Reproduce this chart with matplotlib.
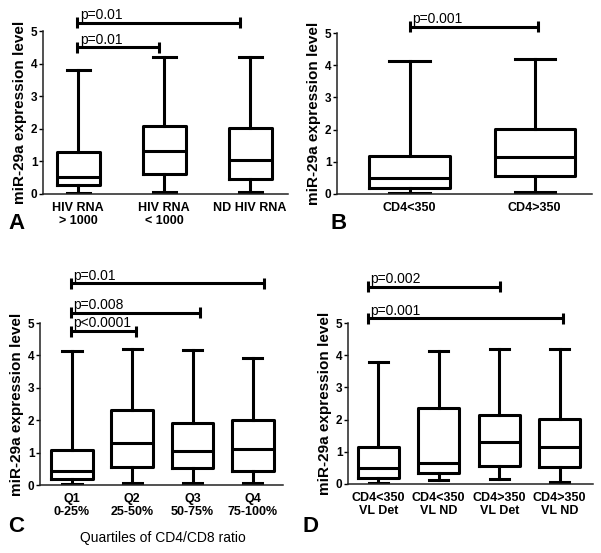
import matplotlib
matplotlib.use("Agg")
import matplotlib.pyplot as plt

plt.rcParams["font.family"] = ["Liberation Sans", "DejaVu Sans"]

# --- panel A: HIV RNA groups ---
a_labels = ["HIV RNA\n> 1000", "HIV RNA\n< 1000", "ND HIV RNA"]
a_low = [0.03, 0.07, 0.06]
a_q1 = [0.28, 0.62, 0.45]
a_med = [0.52, 1.33, 1.03]
a_q3 = [1.28, 2.10, 2.03]
a_high = [3.80, 4.20, 4.20]
a_brackets = [(0.99, 1.94, 4.50, "p=0.01"), (0.99, 2.88, 5.25, "p=0.01")]

# --- panel B: CD4 groups ---
b_labels = ["CD4<350", "CD4>350"]
b_low = [0.03, 0.06]
b_q1 = [0.20, 0.55]
b_med = [0.50, 1.15]
b_q3 = [1.18, 2.03]
b_high = [4.13, 4.20]
b_brackets = [(1.0, 2.03, 5.20, "p=0.001")]

# --- panel C: CD4/CD8 ratio quartiles ---
c_labels = ["Q1\n0-25%", "Q2\n25-50%", "Q3\n50-75%", "Q4\n75-100%"]
c_low = [0.03, 0.07, 0.06, 0.06]
c_q1 = [0.19, 0.57, 0.54, 0.44]
c_med = [0.42, 1.29, 1.05, 1.10]
c_q3 = [1.09, 2.33, 1.92, 2.00]
c_high = [4.14, 4.20, 4.18, 3.93]
c_brackets = [(0.98, 2.07, 4.75, "p<0.0001"), (0.98, 3.12, 5.32, "p=0.008"),
              (0.98, 4.19, 6.22, "p=0.01")]

# --- panel D: CD4 x viral load ---
d_labels = ["CD4<350\nVL Det", "CD4<350\nVL ND", "CD4>350\nVL Det", "CD4>350\nVL ND"]
d_low = [0.04, 0.12, 0.15, 0.06]
d_q1 = [0.18, 0.33, 0.57, 0.52]
d_med = [0.51, 0.64, 1.30, 1.14]
d_q3 = [1.16, 2.35, 2.14, 2.01]
d_high = [3.80, 4.13, 4.20, 4.20]
d_brackets = [(0.83, 3.01, 6.13, "p=0.002"), (0.83, 4.05, 5.15, "p=0.001")]

W, H = 601, 553
fig = plt.figure(figsize=(W / 100, H / 100), dpi=100)


def px_axes(l, r, t, b):
    return fig.add_axes([l / W, 1 - b / H, (r - l) / W, (b - t) / H])


def panel(ax, labels, low, q1, med, q3, high, brackets, xlim, width, capw):
    stats = [dict(whislo=lo, q1=a, med=m, q3=c, whishi=hi, fliers=[])
             for lo, a, m, c, hi in zip(low, q1, med, q3, high)]
    pos = list(range(1, len(stats) + 1))
    lw = 2.2
    ax.bxp(stats, positions=pos, widths=width, capwidths=capw, showfliers=False,
           boxprops=dict(lw=lw, color="black"), medianprops=dict(lw=lw, color="black"),
           whiskerprops=dict(lw=lw, color="black"), capprops=dict(lw=lw, color="black"))
    ax.set_xlim(*xlim)
    ax.set_ylim(0, 5)
    ax.set_yticks(range(6))
    ax.set_xticks(pos)
    ax.set_xticklabels(labels, fontweight="bold", fontsize=9, linespacing=1.05)
    for t in ax.get_yticklabels():
        t.set_fontweight("bold")
        t.set_fontsize(8.5)
    ax.tick_params(axis="x", length=0, pad=6)
    ax.tick_params(axis="y", length=3, width=1, pad=1)
    for s in ("top", "right"):
        ax.spines[s].set_visible(False)
    for s in ("left", "bottom"):
        ax.spines[s].set_linewidth(1.1)
        ax.spines[s].set_color("#222222")
    ax.set_ylabel("miR-29a expression level", fontweight="bold", fontsize=11, labelpad=3)
    for x0, x1, y, txt in brackets:
        ax.plot([x0, x1], [y, y], color="black", lw=2.2, clip_on=False,
                solid_capstyle="butt")
        for xe in (x0, x1):
            ax.plot([xe, xe], [y - 0.17, y + 0.17], color="black", lw=2.2,
                    clip_on=False, solid_capstyle="butt")
        ax.text(x0 + 0.03 * (xlim[1] - xlim[0]) / 3, y + 0.02, txt, ha="left",
                va="bottom", fontsize=10)


axA = px_axes(43, 288, 31, 194)
panel(axA, a_labels, a_low, a_q1, a_med, a_q3, a_high, a_brackets,
      (0.59, 3.44), 0.5, 0.27)
axB = px_axes(337, 592, 33, 194)
panel(axB, b_labels, b_low, b_q1, b_med, b_q3, b_high, b_brackets,
      (0.42, 2.46), 0.64, 0.32)
axC = px_axes(40, 283, 323, 485)
panel(axC, c_labels, c_low, c_q1, c_med, c_q3, c_high, c_brackets,
      (0.47, 4.5), 0.69, 0.32)
axD = px_axes(348, 593, 323, 484)
panel(axD, d_labels, d_low, d_q1, d_med, d_q3, d_high, d_brackets,
      (0.5, 4.55), 0.68, 0.32)

fig.text(163 / W, 1 - 538 / H, "Quartiles of CD4/CD8 ratio", ha="center",
         va="center", fontsize=10)
for letter, x, y in (("A", 8, 224), ("B", 330, 224), ("C", 8, 527), ("D", 302, 527)):
    fig.text(x / W, 1 - y / H, letter, ha="left", va="center", fontsize=16,
             fontweight="bold")

fig.savefig("out.png", dpi=100)
